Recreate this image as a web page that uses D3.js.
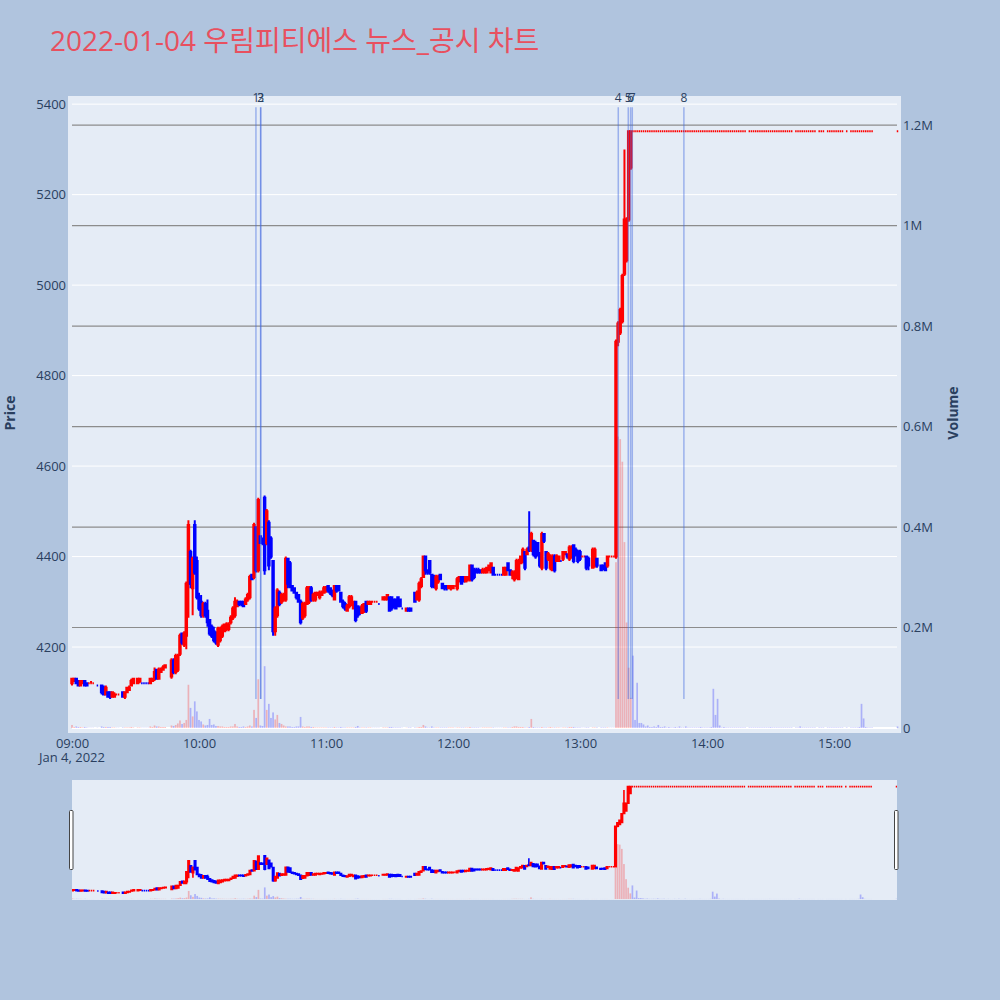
<!DOCTYPE html>
<html><head><meta charset="utf-8">
<script src="https://cdn.jsdelivr.net/npm/d3@7"></script>
<style>
body{margin:0;background:#b0c4de;}
svg{display:block;font-family:"Open Sans","Noto Sans CJK KR",sans-serif;}
</style>
</head><body>
<svg id="chart" width="1000" height="1000"></svg>
<script>
// ---------------- DATA ----------------
const chartTitle = "2022-01-04 우림피티에스 뉴스_공시 차트";
const sessionDate = "Jan 4, 2022";
// rows: [minute after 09:00, open, high, low, close, volume]
const seg0900 = [
[0,4120,4130,4115,4130,6000],[1,4125,4130,4125,4130,2000],[2,4130,4130,4120,4120,3000],
[3,4125,4125,4115,4115,2000],[4,4115,4125,4115,4125,2000],[5,4120,4125,4120,4125,1000],
[6,4125,4125,4115,4115,2000],[7,4120,4120,4115,4115,1000],[8,4120,4120,4120,4120,500],
[9,4120,4125,4120,4120,500],[10,4120,4120,4120,4120,500],[12,4115,4115,4115,4115,500],
[14,4115,4115,4095,4100,3000],[15,4110,4115,4095,4095,2000],[16,4095,4115,4095,4110,2000],
[17,4100,4100,4090,4090,2000],[18,4100,4100,4085,4090,2000],[19,4090,4100,4090,4100,1000],
[20,4090,4100,4090,4095,1000],[21,4095,4095,4095,4095,500],[22,4095,4095,4095,4095,500],
[24,4100,4100,4090,4090,1000],[25,4090,4100,4085,4100,1000],[26,4100,4110,4100,4110,1000],
[27,4105,4115,4105,4110,1000],[28,4115,4130,4115,4125,2000],[29,4120,4130,4120,4130,1000],
[31,4120,4130,4120,4130,1000],[32,4125,4130,4120,4130,1000],[33,4120,4120,4120,4120,500],
[34,4120,4120,4120,4120,500],[35,4120,4120,4120,4120,500],[36,4120,4120,4120,4120,500],
[37,4120,4130,4120,4130,3000],[38,4125,4130,4125,4130,2000],[39,4130,4155,4125,4145,5000],
[40,4150,4150,4130,4130,3000],[41,4130,4155,4130,4150,3000],[42,4145,4155,4145,4150,2000],
[43,4150,4160,4150,4155,2000],[44,4155,4160,4155,4160,2000],[47,4135,4175,4130,4170,5000],
[48,4170,4175,4140,4145,4000],[49,4145,4185,4140,4180,6000],[50,4150,4185,4145,4180,9000],
[51,4185,4230,4180,4225,15000],[52,4230,4230,4205,4210,8000],[53,4205,4235,4200,4230,10000],
[54,4225,4345,4195,4340,16000],[55,4340,4480,4265,4470,86000],[56,4410,4415,4330,4340,40000],
[57,4330,4400,4270,4395,23000],[58,4470,4480,4360,4365,53000],[59,4390,4400,4305,4310,33000]
];
const seg1000 = [
[60,4310,4320,4280,4285,16000],[61,4300,4315,4265,4270,13000],[62,4270,4300,4265,4295,7000],
[63,4295,4300,4265,4270,5000],[64,4280,4305,4245,4255,6000],[65,4260,4260,4225,4230,18000],
[66,4245,4250,4220,4225,6000],[67,4235,4245,4210,4215,7000],[68,4230,4235,4205,4210,4000],
[69,4205,4245,4200,4240,4000],[70,4215,4245,4210,4240,3000],[71,4225,4250,4220,4245,3000],
[72,4235,4250,4235,4250,2000],[73,4240,4255,4235,4250,2000],[74,4240,4255,4235,4250,2000],
[75,4255,4270,4250,4265,3000],[76,4265,4290,4260,4285,3000],[77,4270,4310,4265,4300,8000],
[78,4290,4305,4290,4300,3000],[79,4300,4300,4290,4295,2000],[80,4300,4300,4290,4295,2000],
[81,4300,4300,4290,4290,3000],[82,4295,4310,4295,4305,2000],[83,4305,4320,4300,4315,3000],
[84,4310,4360,4305,4355,5000],[85,4360,4360,4350,4350,3000],[86,4355,4475,4350,4470,36000],
[87,4465,4465,4365,4370,20000],[88,4370,4530,4365,4525,97000],[89,4445,4445,4430,4430,5000],
[90,4440,4440,4425,4430,4000],[91,4530,4535,4360,4370,123000],[92,4430,4505,4425,4500,36000],
[93,4475,4480,4370,4380,48000],[94,4440,4445,4395,4400,20000],[95,4390,4390,4225,4235,31000],
[96,4235,4290,4225,4285,17000],[97,4270,4330,4265,4325,26000],[98,4320,4325,4290,4295,10000],
[99,4300,4320,4295,4315,8000],[100,4305,4320,4300,4315,5000],[101,4305,4400,4300,4395,3000],
[102,4395,4395,4330,4340,3000],[103,4385,4390,4330,4335,3000],[104,4335,4335,4325,4325,2000],
[105,4330,4330,4320,4320,2000],[106,4320,4320,4305,4310,3000],[107,4315,4315,4300,4300,3000],
[108,4300,4305,4250,4255,22000],[109,4265,4300,4260,4295,3000],[110,4270,4300,4265,4295,2000],
[111,4295,4335,4295,4330,3000],[112,4300,4335,4295,4330,3000],[113,4330,4335,4300,4305,2000],
[114,4305,4320,4300,4315,2000],[115,4305,4320,4300,4320,1000],[116,4315,4320,4315,4320,1000],
[117,4310,4325,4305,4320,1000],[118,4315,4325,4315,4320,1000],[119,4320,4335,4320,4330,1000]
];
const seg1100 = [
[120,4325,4335,4320,4330,1000],[121,4335,4335,4320,4325,1000],[122,4330,4330,4315,4320,1000],
[123,4325,4325,4310,4315,1000],[124,4305,4335,4305,4335,2000],[125,4335,4335,4320,4325,1000],
[126,4335,4335,4325,4325,1000],[127,4320,4320,4300,4300,2000],[128,4300,4305,4285,4290,1000],
[129,4295,4300,4280,4285,1000],[130,4280,4295,4280,4290,1000],[131,4290,4315,4285,4310,1000],
[132,4295,4315,4290,4310,1000],[133,4285,4300,4285,4300,1000],[134,4300,4300,4255,4260,2000],
[135,4290,4290,4265,4270,4000],[136,4285,4290,4270,4275,1000],[137,4275,4295,4275,4290,1000],
[138,4280,4295,4275,4295,1000],[139,4300,4300,4275,4280,1000],[140,4295,4300,4295,4300,1000],
[141,4295,4300,4295,4300,1000],[142,4300,4300,4300,4300,500],[143,4300,4300,4300,4300,500],
[144,4300,4300,4300,4300,500],[145,4295,4295,4295,4295,500],[147,4305,4310,4305,4310,1000],
[148,4305,4310,4305,4310,1000],[149,4305,4315,4305,4315,1000],[150,4310,4310,4280,4280,2000],
[151,4310,4310,4280,4285,2000],[152,4305,4305,4285,4290,1000],[153,4305,4305,4285,4285,1000],
[154,4310,4310,4290,4290,1000],[155,4305,4305,4290,4290,1000],[156,4285,4285,4285,4285,500],
[158,4280,4285,4280,4285,500],[159,4285,4285,4280,4280,1000],[160,4285,4285,4280,4280,1000],
[162,4320,4320,4300,4300,1000],[163,4305,4325,4305,4320,1000],[164,4305,4345,4300,4340,2000],
[165,4335,4355,4330,4350,2000],[166,4355,4400,4355,4400,6000],[167,4400,4400,4360,4370,3000],
[168,4370,4370,4360,4365,1000],[169,4390,4390,4360,4365,1000],[170,4360,4360,4330,4335,3000],
[171,4355,4360,4330,4335,1000],[172,4330,4360,4325,4355,1000],[173,4345,4360,4340,4355,1000],
[174,4360,4360,4350,4350,1000],[175,4340,4340,4330,4330,1000],[176,4335,4335,4325,4330,1000],
[177,4335,4335,4325,4330,1000],[178,4330,4335,4330,4335,1000],[179,4330,4335,4325,4335,1000]
];
const seg1200 = [
[180,4330,4335,4330,4335,1000],[181,4335,4335,4335,4335,500],[182,4330,4355,4325,4350,1000],
[183,4345,4355,4345,4355,1000],[184,4355,4355,4340,4340,1000],[185,4355,4355,4345,4345,1000],
[186,4345,4355,4345,4355,1000],[187,4350,4355,4345,4355,1000],[188,4350,4380,4345,4380,2000],
[189,4380,4380,4345,4350,1000],[190,4370,4375,4350,4355,1000],[191,4370,4375,4365,4365,1000],
[192,4370,4375,4365,4365,1000],[193,4370,4370,4365,4365,500],[194,4365,4375,4365,4370,1000],
[195,4365,4375,4365,4370,1000],[196,4365,4375,4365,4375,1000],[197,4370,4380,4370,4380,1000],
[198,4365,4385,4365,4385,1000],[199,4375,4375,4360,4360,1000],[200,4360,4360,4360,4360,500],
[201,4360,4360,4360,4360,500],[202,4360,4360,4360,4360,500],[203,4360,4360,4360,4360,500],
[204,4360,4375,4360,4375,1000],[205,4360,4375,4360,4375,1000],[206,4385,4385,4370,4370,1000],
[207,4370,4370,4360,4360,1000],[208,4360,4370,4350,4365,2000],[209,4350,4370,4345,4365,3000],
[210,4355,4395,4350,4390,3000],[211,4350,4395,4350,4385,2000],[212,4385,4400,4385,4400,2000],
[213,4390,4420,4385,4415,2000],[214,4410,4410,4370,4375,1000],[215,4405,4420,4405,4415,1000],
[216,4420,4500,4410,4415,2000],[217,4415,4455,4410,4450,18000],[218,4435,4435,4400,4405,2000],
[219,4430,4435,4395,4400,1000],[220,4430,4430,4400,4405,1000],[221,4405,4410,4375,4380,1000],
[222,4375,4455,4370,4450,2000],[223,4450,4450,4430,4435,1000],[224,4410,4410,4370,4375,1000],
[225,4395,4410,4390,4405,1000],[226,4375,4405,4370,4400,2000],[227,4370,4405,4370,4400,1000],
[228,4400,4405,4365,4370,1000],[229,4390,4405,4390,4400,1000],[230,4390,4400,4390,4400,1000],
[231,4390,4390,4390,4390,500],[232,4395,4410,4390,4410,1000],[233,4405,4410,4405,4410,1000],
[234,4405,4405,4395,4400,1000],[235,4395,4425,4390,4420,2000],[236,4400,4425,4395,4420,2000],
[237,4425,4425,4385,4390,2000],[238,4415,4420,4400,4405,1000],[239,4410,4415,4385,4390,1000]
];
const seg1300 = [
[240,4410,4415,4390,4395,1000],[241,4400,4400,4400,4400,500],[242,4400,4400,4400,4400,500],
[243,4400,4400,4370,4375,1000],[244,4395,4400,4370,4380,1000],[246,4375,4420,4375,4415,1000],
[247,4380,4420,4375,4415,1000],[248,4395,4395,4375,4380,1000],[250,4380,4380,4370,4370,1000],
[251,4380,4380,4370,4375,1000],[252,4385,4385,4370,4370,1000],[253,4380,4400,4375,4400,1000],
[254,4400,4400,4400,4400,500],[255,4400,4400,4400,4400,500],[256,4400,4400,4400,4400,500],
[257,4400,4880,4395,4875,330000],[258,4875,4920,4865,4915,580000],[259,4895,4950,4890,4945,575000],
[260,4920,5025,4915,5020,530000],[261,5025,5300,5020,5145,370000],[262,5055,5150,5050,5145,210000],
[263,5145,5340,5140,5340,120000],[264,5260,5340,5255,5340,60000]
];
// upper-limit plateau: every trade at 5340 -> [minute, volume]
const upperLimitPrice = 5340;
const plateauRows = [
[265,144000],[266,16000],[267,90000],[268,10000],[269,10000],[270,7000],[271,3000],[272,5000],
[273,2000],[274,2000],[275,3000],[276,2000],[277,6000],[278,2000],[279,2000],[280,3000],
[281,1000],[282,2000],[283,1000],[284,1000],[285,2000],[286,1000],[287,3000],[288,1000],
[289,1000],[290,3000],[291,1000],[292,1000],[293,1000],[294,1000],[295,1000],[296,1000],
[297,2000],[298,1000],[299,1000],[300,1000],[301,1000],[302,2000],[303,78000],[304,26000],
[305,58000],[306,5000],[307,1000],[308,2000],[309,1000],[310,1000],[311,1000],[312,1000],
[313,1000],[314,1000],[315,1000],[316,1000],[317,1000],[318,1000],
[320,1000],[321,1000],[322,1000],[323,1000],[324,1000],[325,1000],[326,1000],[327,1000],
[328,1000],[329,1000],[330,1500],[331,1000],[332,1000],[333,1000],[334,1000],[335,1000],
[336,1000],[337,1000],[338,1000],[339,1000],[340,1000],
[342,1000],[343,1000],[344,3000],[345,1000],[346,1000],[347,1000],[348,1000],[349,1000],
[350,1000],[351,1000],[353,1000],[354,1000],[355,1000],
[357,1000],[358,1000],[359,1000],[360,1000],[361,1000],[362,1000],[363,1000],[364,1000],
[366,1000],[368,1000],[369,1000],[370,1000],[371,1000],[372,2000],[373,48000],[374,19000],
[375,2000],[376,1000],[377,1000],[378,1000],[390,3000]
];
// news / disclosure markers
const newsTimes  = ["10:26:54","10:29:08","10:29:08","13:18:05","13:22:48","13:23:54","13:24:42","13:49:05"];
const newsLabels = ["1","2","3","4","5","6","7","8"];
// axis ticks
const priceTicks = [4200,4400,4600,4800,5000,5200,5400];
const volumeTicks = [0,200000,400000,600000,800000,1000000,1200000];
const volumeTickLabels = ["0","0.2M","0.4M","0.6M","0.8M","1M","1.2M"];

// ---------------- BUILD ----------------
const base = new Date(2022,0,4,9,0,0);
const toTime = m => new Date(base.getTime() + m*60000);
const parseHMS = s => { const p = s.split(':').map(Number); return new Date(2022,0,4,p[0],p[1],p[2]); };

const rows = [];
[seg0900, seg1000, seg1100, seg1200, seg1300].forEach(s => s.forEach(r =>
  rows.push({t: toTime(r[0]), o:r[1], h:r[2], l:r[3], c:r[4], v:r[5]})));
plateauRows.forEach(r => rows.push({t: toTime(r[0]), o:upperLimitPrice, h:upperLimitPrice, l:upperLimitPrice, c:upperLimitPrice, v:r[1]}));
rows.sort((a,b)=>a.t-b.t);
// plotly-like direction rule
let inc = true, cPrev = null;
rows.forEach(d => {
  if (d.c === d.o) { if (cPrev !== null && d.c !== cPrev) inc = d.c > cPrev; }
  else inc = d.c > d.o;
  d.inc = inc; cPrev = d.c;
  d.volUp = d.c > d.o;
});

const UP = "#ff0000", DOWN = "#0000ff";
const svg = d3.select("#chart");
svg.append("rect").attr("width",1000).attr("height",1000).attr("fill","#b0c4de");

// main plot geometry
const P = {left:68, right:901, top:96, bottom:733, gx0:72, gx1:897};
const x = d3.scaleTime().domain([toTime(0), toTime(390)]).range([72, 897.5]);
const yP = d3.scaleLinear().domain([4010, 5418]).range([P.bottom, P.top]);
const yV = d3.scaleLinear().domain([-10000, 1258000]).range([P.bottom, P.top]);
const step = x(toTime(1)) - x(toTime(0));

svg.append("rect").attr("x",P.left).attr("y",P.top).attr("width",P.right-P.left).attr("height",P.bottom-P.top).attr("fill","#e5ecf6");

const defs = svg.append("defs");
defs.append("clipPath").attr("id","clipMain").append("rect")
  .attr("x",P.left).attr("y",P.top).attr("width",P.right-P.left).attr("height",P.bottom-P.top);

// price grid (white)
svg.append("g").selectAll("line").data(priceTicks).join("line")
  .attr("x1",P.gx0).attr("x2",P.gx1).attr("y1",d=>yP(d)).attr("y2",d=>yP(d))
  .attr("stroke","#ffffff").attr("stroke-width",1);
// volume grid (gray)
svg.append("g").selectAll("line").data(volumeTicks.filter(d=>d>0)).join("line")
  .attr("x1",P.gx0).attr("x2",P.gx1).attr("y1",d=>yV(d)).attr("y2",d=>yV(d))
  .attr("stroke","#8c8c8c").attr("stroke-width",1.2);
svg.append("line").attr("x1",P.gx0).attr("x2",P.gx1).attr("y1",yV(0)).attr("y2",yV(0))
  .attr("stroke","#ffffff").attr("stroke-width",2);

function drawVolume(g, xs, yv, w, op){
  g.selectAll("rect.v").data(rows.filter(d=>d.v>0)).join("rect").attr("class","v")
    .attr("x",d=>xs(d.t)-w/2).attr("width",w)
    .attr("y",d=>yv(d.v)).attr("height",d=>Math.max(0, yv(0)-yv(d.v)))
    .attr("fill",d=>d.volUp?UP:DOWN).attr("fill-opacity",op);
}
function drawCandles(g, xs, yp, bw, lw){
  g.selectAll("path.c").data(rows).join("path").attr("class","c")
    .attr("d", d => {
      const cx = xs(d.t), x0 = cx - bw/2, x1 = cx + bw/2;
      const yo = yp(d.o), yc = yp(d.c), yh = yp(d.h), yl = yp(d.l);
      const top = Math.min(yo,yc), bot = Math.max(yo,yc);
      return `M${x0},${yo}H${x1}V${yc}H${x0}Z M${cx},${top}V${yh} M${cx},${bot}V${yl}`;
    })
    .attr("fill",d=>d.inc?UP:DOWN).attr("stroke",d=>d.inc?UP:DOWN)
    .attr("stroke-width",lw);
}

const gMain = svg.append("g").attr("clip-path","url(#clipMain)");
drawVolume(gMain.append("g"), x, yV, step*0.8, 0.25);
drawCandles(gMain.append("g"), x, yP, step*0.7, 2);

// news lines
const lowMin = d3.min(rows, d=>d.l), highMax = d3.max(rows, d=>d.h);
const news = newsTimes.map((s,i)=>({t:parseHMS(s), label:newsLabels[i]}));
gMain.append("g").selectAll("line").data(news).join("line")
  .attr("x1",d=>x(d.t)).attr("x2",d=>x(d.t))
  .attr("y1",yP(highMax*1.01)).attr("y2",yP(lowMin))
  .attr("stroke","#4169e1").attr("stroke-opacity",0.45).attr("stroke-width",1.5);
svg.append("g").selectAll("text").data(news).join("text")
  .attr("x",d=>x(d.t)).attr("y",101.5).attr("text-anchor","middle")
  .attr("font-size",12).attr("fill","#2a3f5f").text(d=>d.label);

// axes
const axisColor = "#2a3f5f";
const gy = svg.append("g").attr("transform",`translate(${P.left-2},0)`)
  .call(d3.axisLeft(yP).tickValues(priceTicks).tickSize(0).tickPadding(0).tickFormat(d3.format("d")));
const gv = svg.append("g").attr("transform",`translate(${P.right+2},0)`)
  .call(d3.axisRight(yV).tickValues(volumeTicks).tickSize(0).tickPadding(0)
        .tickFormat((d,i)=>volumeTickLabels[i]));
const gx = svg.append("g").attr("transform",`translate(0,${P.bottom+1})`)
  .call(d3.axisBottom(x).ticks(d3.timeHour.every(1)).tickSize(0).tickPadding(5).tickFormat(d3.timeFormat("%H:%M")));
[gy,gv,gx].forEach(g=>{
  g.select(".domain").remove();
  g.selectAll("text").attr("fill",axisColor).attr("font-size",13).attr("font-family",'"Open Sans",sans-serif');
});
svg.append("text").attr("x",x(toTime(0))).attr("y",762).attr("text-anchor","middle")
  .attr("font-size",13).attr("fill",axisColor).text(sessionDate);

svg.append("text").attr("transform","translate(15,413) rotate(-90)").attr("text-anchor","middle")
  .attr("font-size",14).attr("font-weight","bold").attr("fill",axisColor).text("Price");
svg.append("text").attr("transform","translate(958,413) rotate(-90)").attr("text-anchor","middle")
  .attr("font-size",14).attr("font-weight","bold").attr("fill",axisColor).text("Volume");

// title
svg.append("text").attr("x",50).attr("y",51).attr("font-size",28).attr("fill","#e8505f")
  .text(chartTitle);

// range slider
const S = {left:72, right:897, top:780, bottom:900};
const xs = d3.scaleTime().domain([toTime(0), toTime(390)]).range([72.5, 896.5]);
const ysP = d3.scaleLinear().domain([4010, 5418]).range([S.bottom, S.top]);
const ysV = d3.scaleLinear().domain([-10000, 1258000]).range([S.bottom, S.top]);
svg.append("rect").attr("x",S.left).attr("y",S.top).attr("width",S.right-S.left).attr("height",S.bottom-S.top).attr("fill","#e5ecf6");
defs.append("clipPath").attr("id","clipSlider").append("rect")
  .attr("x",S.left).attr("y",S.top).attr("width",S.right-S.left).attr("height",S.bottom-S.top);
const gS = svg.append("g").attr("clip-path","url(#clipSlider)");
drawVolume(gS.append("g"), xs, ysV, step*0.8, 0.25);
drawCandles(gS.append("g"), xs, ysP, step*0.7, 1.6);
// slider grabbers
[69.5, 894.5].forEach(hx => svg.append("rect").attr("x",hx).attr("y",810.5).attr("width",3.5).attr("height",59)
  .attr("rx",1).attr("fill","#ffffff").attr("stroke","#444").attr("stroke-width",1));
</script>
</body></html>
